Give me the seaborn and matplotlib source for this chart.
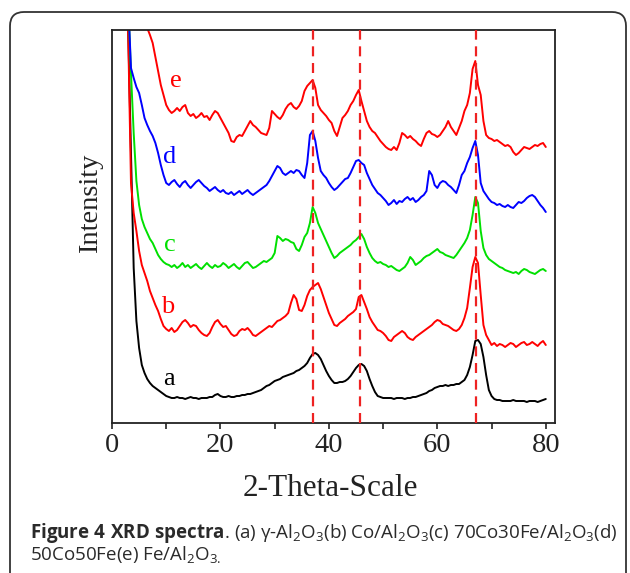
import numpy as np
import pandas as pd
import matplotlib
matplotlib.use("Agg")
import matplotlib.pyplot as plt
import seaborn as sns
from matplotlib.patches import FancyBboxPatch
from matplotlib.transforms import IdentityTransform
from matplotlib.ticker import MultipleLocator

# ---------------- data ----------------
two_theta = np.arange(2.5, 80.01, 0.5)  # 2θ grid, 156 points

# (a) gamma-Al2O3  (black)
int_a = [480, 390, 270, 155, 102, 75, 58, 50, 44, 40,
         37, 35, 33, 31, 29, 27, 26, 25, 25, 26,
         25, 25, 24, 25, 26, 25, 25, 24, 25, 25,
         25, 26, 26, 28, 29, 27, 26, 26, 27, 26,
         26, 27, 27, 28, 28, 29, 29, 30, 31, 32,
         33, 35, 37, 38, 40, 42, 43, 44, 46, 47,
         48, 49, 50, 52, 53, 55, 57, 60, 65, 69,
         70, 68, 64, 58, 52, 47, 43, 40, 40, 41,
         41, 42, 44, 47, 51, 55, 58, 59, 57, 52,
         44, 37, 31, 27, 26, 25, 25, 25, 25, 24,
         25, 25, 25, 24, 25, 25, 26, 26, 27, 28,
         29, 30, 32, 33, 35, 36, 37, 37, 38, 37,
         38, 38, 39, 39, 41, 43, 48, 56, 68, 82,
         83, 79, 66, 48, 33, 27, 24, 23, 23, 22,
         22, 22, 22, 23, 22, 22, 22, 22, 21, 22,
         22, 22, 21, 22, 23, 24]

# (b) Co/Al2O3  (red, lower)
int_b = [470, 385, 240, 210, 192, 172, 158, 150, 142, 132,
         125, 118, 112, 104, 97, 94, 92, 95, 91, 93,
         97, 101, 103, 100, 96, 98, 97, 93, 90, 88,
         87, 90, 96, 101, 103, 99, 96, 97, 93, 89,
         87, 88, 92, 94, 93, 95, 92, 88, 87, 89,
         91, 93, 95, 97, 96, 99, 102, 103, 105, 107,
         110, 120, 128, 124, 113, 112, 118, 127, 133, 136,
         138, 140, 134, 126, 118, 110, 104, 98, 97, 100,
         102, 104, 107, 109, 111, 114, 126, 128, 121, 114,
         106, 101, 97, 93, 92, 90, 87, 83, 82, 86,
         88, 90, 92, 90, 86, 84, 83, 86, 88, 90,
         92, 94, 96, 98, 101, 103, 102, 99, 98, 97,
         95, 93, 92, 94, 98, 105, 115, 135, 156, 166,
         160, 128, 98, 88, 83, 78, 80, 77, 79, 78,
         76, 78, 80, 79, 76, 78, 80, 81, 78, 79,
         81, 79, 77, 80, 82, 78]

# (c) 70Co30Fe/Al2O3  (green)
int_c = [470, 420, 350, 290, 242, 218, 204, 196, 190, 184,
         180, 174, 168, 164, 161, 159, 158, 156, 158, 155,
         157, 160, 156, 158, 155, 157, 159, 156, 154, 157,
         160, 157, 155, 158, 156, 157, 160, 158, 155, 157,
         159, 156, 154, 157, 160, 161, 158, 155, 156, 158,
         160, 162, 161, 163, 165, 170, 187, 185, 182, 184,
         183, 181, 180, 174, 172, 178, 186, 190, 200, 216,
         210, 200, 194, 188, 182, 176, 170, 165, 167, 170,
         172, 174, 176, 178, 181, 183, 186, 189, 184, 176,
         170, 165, 162, 160, 161, 159, 158, 156, 157, 155,
         153, 152, 154, 156, 160, 166, 163, 158, 160, 162,
         165, 167, 168, 170, 172, 174, 171, 170, 168, 167,
         166, 165, 168, 172, 176, 180, 185, 193, 208, 226,
         220, 192, 175, 168, 164, 162, 160, 158, 156, 155,
         153, 152, 151, 150, 151, 149, 152, 154, 153, 151,
         150, 149, 151, 153, 154, 152]

# (d) 50Co50Fe  (blue)
int_d = [470, 420, 355, 345, 336, 330, 318, 305, 298, 292,
         287, 280, 270, 258, 248, 240, 238, 241, 243, 239,
         236, 240, 242, 238, 235, 238, 241, 243, 240, 237,
         235, 232, 234, 236, 233, 231, 233, 230, 229, 231,
         228, 230, 232, 229, 231, 233, 230, 228, 230, 232,
         234, 236, 238, 242, 247, 252, 257, 255, 250, 248,
         250, 252, 250, 253, 252, 248, 245, 260, 288, 292,
         282, 265, 252, 248, 245, 240, 236, 233, 235, 238,
         241, 244, 245, 250, 256, 262, 263, 260, 258, 250,
         244, 238, 234, 230, 228, 225, 222, 218, 220, 223,
         219, 222, 221, 224, 226, 223, 225, 221, 223, 226,
         228, 232, 252, 248, 238, 235, 240, 242, 241, 238,
         236, 233, 230, 238, 248, 252, 260, 266, 275, 282,
         268, 240, 232, 228, 224, 221, 220, 218, 219, 217,
         216, 218, 216, 215, 218, 221, 220, 222, 225, 227,
         228, 226, 222, 218, 215, 211]

# (e) Fe/Al2O3  (red, top)
int_e = [560, 540, 520, 500, 480, 460, 445, 410, 395, 388,
         380, 366, 352, 338, 328, 318, 313, 310, 312, 315,
         312, 316, 318, 310, 307, 309, 305, 307, 310, 306,
         307, 303, 308, 312, 310, 305, 300, 295, 290, 282,
         281, 286, 288, 287, 292, 297, 302, 298, 296, 293,
         290, 289, 288, 295, 312, 309, 306, 304, 308, 314,
         318, 320, 316, 314, 317, 322, 332, 337, 340, 343,
         335, 318, 313, 310, 307, 303, 300, 292, 287, 296,
         305, 308, 312, 318, 322, 328, 333, 322, 312, 302,
         296, 292, 290, 286, 282, 279, 276, 274, 273, 276,
         273, 280, 290, 288, 285, 287, 284, 282, 279, 277,
         284, 290, 292, 289, 288, 286, 288, 292, 296, 302,
         296, 292, 288, 295, 302, 312, 318, 330, 354, 362,
         338, 328, 302, 288, 285, 284, 282, 283, 281, 279,
         277, 278, 276, 271, 268, 270, 273, 276, 275, 274,
         276, 278, 277, 279, 280, 276]

samples = ["a", "b", "c", "d", "e"]
curve_colors = ["#000000", "#ff0000", "#00e000", "#0000ff", "#ff0000"]
label_x = [9.4, 9.0, 9.6, 9.4, 10.7]
label_y = [38, 110, 172, 260, 336]
ref_peaks = [37.0, 45.8, 67.2]
x_ticks = [0, 20, 40, 60, 80]

# ---------------- style ----------------
sns.set_style("ticks")
plt.rcParams["font.family"] = ["Liberation Serif", "DejaVu Serif"]
plt.rcParams["mathtext.fontset"] = "custom"
plt.rcParams["mathtext.rm"] = "Open Sans"
plt.rcParams["mathtext.bf"] = "Open Sans:bold"
plt.rcParams["mathtext.it"] = "Open Sans:italic"

fig = plt.figure(figsize=(6.3, 5.73), dpi=100)
W, H = 630, 573
ax = fig.add_axes([112 / W, 1 - 423 / H, (555 - 112) / W, (423 - 30) / H])

series = [int_a, int_b, int_c, int_d, int_e]
df = pd.concat(
    [pd.DataFrame({"two_theta": two_theta, "intensity": s, "sample": n})
     for s, n in zip(series, samples)],
    ignore_index=True)

sns.lineplot(data=df, x="two_theta", y="intensity", hue="sample",
             hue_order=samples, palette=dict(zip(samples, curve_colors)),
             estimator=None, sort=False, legend=False, linewidth=1.4, ax=ax)

for p in ref_peaks:
    ax.axvline(p, color="#ee2222", linewidth=1.6, linestyle=(0, (4.5, 3.0)),
               zorder=5)

for n, c, lx, ly in zip(samples, curve_colors, label_x, label_y):
    ax.text(lx, ly, n, color=c, fontsize=19, ha="left", va="baseline",
            family=["Liberation Serif"])

ax.set_xlim(0, 81.7)
ax.set_ylim(0, 393)
ax.xaxis.set_major_locator(MultipleLocator(20))
ax.xaxis.set_minor_locator(MultipleLocator(10))
ax.set_xticks(x_ticks)
ax.tick_params(axis="x", which="both", direction="out", length=4, width=1.2,
               color="#222222", labelsize=20.5, pad=3, labelcolor="#222222")
ax.tick_params(axis="y", which="both", left=False, labelleft=False)
for sp in ax.spines.values():
    sp.set_visible(True)
    sp.set_linewidth(1.3)
    sp.set_color("#222222")

ax.set_xlabel("2-Theta-Scale", fontsize=22.5, color="#222222")
ax.xaxis.set_label_coords(0.492, -0.13)
ax.set_ylabel("Intensity", fontsize=20.5, color="#222222")
ax.yaxis.set_label_coords(-0.02, 0.56)

# caption
cap_font = ["Open Sans", "DejaVu Sans"]
line1 = (r"$\mathbf{Figure\ 4\ XRD\ spectra}$. (a) γ-Al$_2$O$_3$(b) "
         r"Co/Al$_2$O$_3$(c) 70Co30Fe/Al$_2$O$_3$(d)")
line2 = r"50Co50Fe(e) Fe/Al$_2$O$_{3.}$"
fig.text(30 / W, 1 - 538 / H, line1, fontsize=13.5, family=cap_font,
         color="#2a2a2a", ha="left", va="baseline")
fig.text(30 / W, 1 - 560 / H, line2, fontsize=13.5, family=cap_font,
         color="#2a2a2a", ha="left", va="baseline")

# rounded frame around the figure
frame = FancyBboxPatch((10, -20), 616, 573 - 12 + 20,
                       boxstyle="round,pad=0,rounding_size=14",
                       transform=IdentityTransform(), facecolor="none",
                       edgecolor="#333333", linewidth=1.3)
fig.add_artist(frame)

fig.savefig("out.png", dpi=100)
